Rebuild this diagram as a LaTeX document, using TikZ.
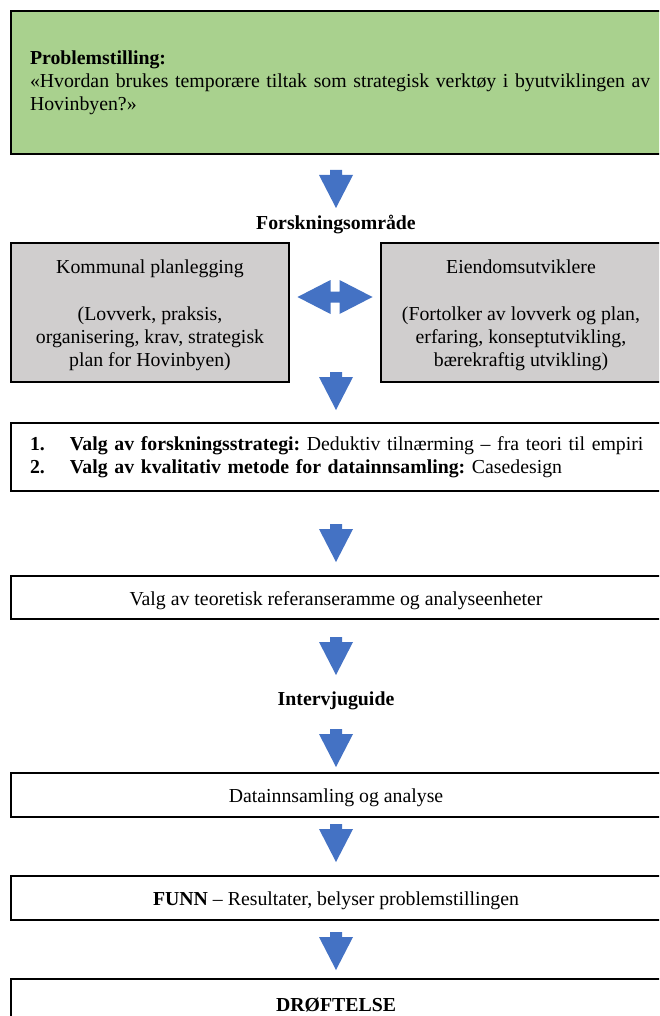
\documentclass[tikz,border=0pt]{standalone}
\usepackage{fontspec}
\setmainfont{Liberation Serif}
\usetikzlibrary{calc}
\frenchspacing
\definecolor{probgreen}{HTML}{A9D18E}
\definecolor{areagray}{HTML}{D0CECE}
\definecolor{arrowblue}{HTML}{4472C4}
\newcommand{\lowstrut}{\rule{0pt}{19.5pt}}
\tikzset{
  txt/.style={font=\fontsize{19.8}{23.2}\selectfont, inner sep=0pt, outer sep=0pt},
  boxstyle/.style={txt, draw=black, line width=2.2pt, anchor=north west},
  greenbox/.style={boxstyle, fill=probgreen},
  graybox/.style={boxstyle, fill=areagray, align=center},
  whitebox/.style={boxstyle, fill=white},
  headline/.style={txt, font=\fontsize{19.8}{23.2}\selectfont\bfseries},
  downarrow/.pic={\fill[arrowblue] (-6,0) -- (6,0) -- (6,5) -- (17,5) -- (0,38) -- (-17,5) -- (-6,5) -- cycle;},
  twowayarrow/.pic={\fill[arrowblue] (-38,0) -- (-5,-17) -- (-5,-5.5) -- (4,-5.5) -- (4,-17) -- (37,0) -- (4,17) -- (4,5.5) -- (-5,5.5) -- (-5,17) -- cycle;}
}
\begin{document}
\begin{tikzpicture}[x=1pt,y=-1pt]
\useasboundingbox (0,0) rectangle (659,1016);
\clip (0,0) rectangle (659,1016);
\fill[white] (0,0) rectangle (659,1016);

% problem statement
\node[greenbox, minimum height=143pt, text width=660pt, inner xsep=19pt, align=left] (problem) at (11,11)
  {\textbf{Problemstilling:}\\«Hvordan brukes temporære tiltak som strategisk verktøy i byutviklingen av\\Hovinbyen?»};

\pic at (336,170) {downarrow};
\node[headline] (area) at (336,225) {Forskningsområde};

% research area boxes
\node[graybox, minimum width=278pt, minimum height=139pt] (municipal) at (11,243)
  {\rule{0pt}{20pt}Kommunal planlegging\\[23.2pt](Lovverk, praksis,\\organisering, krav, strategisk\\plan for Hovinbyen)};
\node[graybox, minimum width=280pt, minimum height=139pt] (developers) at (381,243)
  {\rule{0pt}{20pt}Eiendomsutviklere\\[23.2pt](Fortolker av lovverk og plan,\\erfaring, konseptutvikling,\\bærekraftig utvikling)};
\pic at (335.5,297) {twowayarrow};

\pic at (336,372) {downarrow};

% strategy box
\node[whitebox, minimum height=68pt, text width=660pt, inner xsep=19pt, align=left] (strategy) at (11,423)
  {\makebox[40pt][l]{\textbf{1.}}\textbf{Valg av forskningsstrategi:} Deduktiv tilnærming – fra teori til empiri\\
   \makebox[40pt][l]{\textbf{2.}}\textbf{Valg av kvalitativ metode for datainnsamling:} Casedesign};

\pic at (336,524) {downarrow};

\node[whitebox, minimum width=650pt, minimum height=43pt] (theory) at (11,576)
  {\lowstrut Valg av teoretisk referanseramme og analyseenheter};

\pic at (336,637) {downarrow};
\node[headline] (guide) at (336,701) {Intervjuguide};

\pic at (336,729) {downarrow};

\node[whitebox, minimum width=650pt, minimum height=44pt] (data) at (11,773)
  {\lowstrut Datainnsamling og analyse};

\pic at (336,824) {downarrow};

\node[whitebox, minimum width=650pt, minimum height=44pt] (findings) at (11,876)
  {\lowstrut\textbf{FUNN} – Resultater, belyser problemstillingen};

\pic at (336,932) {downarrow};

\node[whitebox, minimum width=650pt, minimum height=46pt] (discussion) at (11,979)
  {\lowstrut\textbf{DRØFTELSE}};
\end{tikzpicture}
\end{document}
